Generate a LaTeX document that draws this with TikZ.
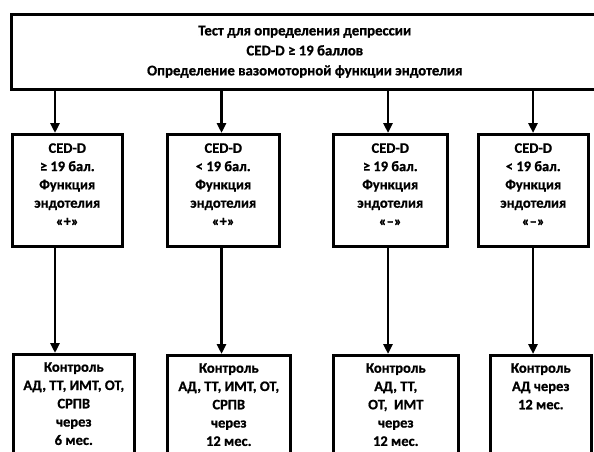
\documentclass[tikz,border=0pt]{standalone}
\usepackage{fontspec}
\setmainfont{Carlito}[BoldFeatures={FakeBold=0.8}]
\usetikzlibrary{arrows.meta}
\newcommand\boxtxt[4]{\parbox[c][#2][t]{#1}{\centering\vspace*{#3}#4\par}}
\begin{document}
\begin{tikzpicture}[x=1pt,y=-1pt,
  box/.style={draw, line width=2.6pt, inner sep=0pt, anchor=north west, fill=white,
    font=\fontsize{14.5}{18.3}\selectfont\bfseries},
  arr/.style={line width=2.6pt, -{Triangle[length=10pt,width=9pt]}}]
\useasboundingbox (0,0) rectangle (594,452);
\clip (0,0) rectangle (594,452);
\fill[white] (0,0) rectangle (594,452);
% top box
\node[box, font=\fontsize{14.8}{20}\selectfont\bfseries] (top) at (10,13)
  {\parbox[c][75pt][c]{587pt}{\centering Тест для определения депрессии\\
   CED-D ≥ 19 баллов\\ Определение вазомоторной функции эндотелия\par}};
% middle boxes
\node[box] (s1) at (11,133) {\boxtxt{110pt}{112pt}{9pt}{CED-D\\ ≥ 19 бал.\\ Функция\\ эндотелия\\ «+»}};
\node[box] (s2) at (166,133) {\boxtxt{112pt}{112pt}{9pt}{CED-D\\ < 19 бал.\\ Функция\\ эндотелия\\ «+»}};
\node[box] (s3) at (332,133) {\boxtxt{114pt}{112pt}{9pt}{CED-D\\ ≥ 19 бал.\\ Функция\\ эндотелия\\ «–»}};
\node[box] (s4) at (477,133) {\boxtxt{110pt}{112pt}{9pt}{CED-D\\ < 19 бал.\\ Функция\\ эндотелия\\ «–»}};
% bottom boxes
\node[box] (b1) at (12,353) {\boxtxt{121pt}{115pt}{8pt}{Контроль\\ АД, ТТ, ИМТ, ОТ,\\ СРПВ\\ через\\ 6 мес.}};
\node[box] (b2) at (166,354) {\boxtxt{123pt}{115pt}{8pt}{Контроль\\ АД, ТТ, ИМТ, ОТ,\\ СРПВ\\ через\\ 12 мес.}};
\node[box] (b3) at (332,354) {\boxtxt{125pt}{115pt}{8pt}{Контроль\\ АД, ТТ,\\ ОТ,\ \ ИМТ\\ через\\ 12 мес.}};
\node[box] (b4) at (489,354) {\boxtxt{101pt}{115pt}{8pt}{Контроль\\ АД через\\ 12 мес.}};
% connectors
\coordinate (c1) at (55,0);
\coordinate (c2) at (221.5,0);
\coordinate (c3) at (388,0);
\coordinate (c4) at (533,0);
\foreach \i in {1,2,3,4}{
  \draw[arr] (c\i |- top.south) -- (c\i |- s\i.north);
  \draw[arr] (c\i |- s\i.south) -- (c\i |- b\i.north);
}
\end{tikzpicture}
\end{document}
